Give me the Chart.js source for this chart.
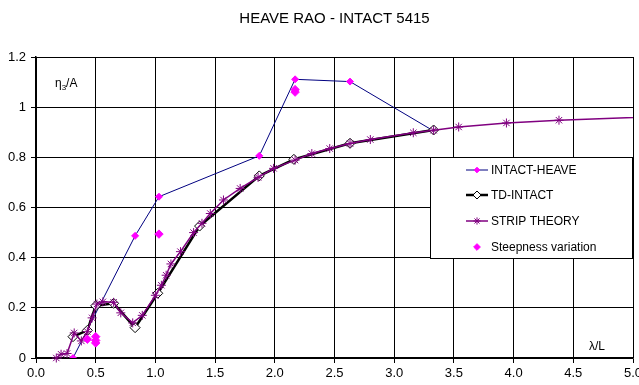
<!DOCTYPE html>
<html>
<head>
<meta charset="utf-8">
<script src="https://cdn.jsdelivr.net/npm/chart.js@4/dist/chart.umd.min.js"></script>
<style>
  body { margin: 0; background: #fff; }
  #wrap { width: 639px; height: 385px; }
</style>
</head>
<body>
<div id="wrap"><canvas id="raoChart" width="639" height="385"></canvas></div>
<script>
// values (x = lambda/L, y = eta3/A)
const heaveX = [0.31, 0.83, 1.03, 1.87, 2.17, 2.63, 3.33];
const heaveY = [0.0, 0.487, 0.643, 0.806, 1.111, 1.102, 0.905];

const tdX = [0.31, 0.43, 0.50, 0.65, 0.83, 1.02, 1.37, 1.87, 2.16, 2.63, 3.33];
const tdY = [0.085, 0.11, 0.208, 0.218, 0.121, 0.258, 0.526, 0.726, 0.792, 0.856, 0.909];

const stripX = [0.17, 0.21, 0.26, 0.32, 0.38, 0.43, 0.47, 0.51, 0.56, 0.65, 0.71, 0.81, 0.89,
                1.00, 1.05, 1.09, 1.13, 1.21, 1.32, 1.39, 1.46, 1.57, 1.71, 1.86, 1.99,
                2.17, 2.31, 2.46, 2.63, 2.80, 3.16, 3.33, 3.54, 3.94, 4.38, 5.5];
const stripY = [0.0, 0.015, 0.018, 0.10, 0.068, 0.105, 0.16, 0.215, 0.224, 0.222, 0.18, 0.14, 0.17,
                0.25, 0.29, 0.33, 0.375, 0.424, 0.50, 0.537, 0.576, 0.63, 0.676, 0.72, 0.756,
                0.789, 0.815, 0.835, 0.855, 0.871, 0.898, 0.908, 0.921, 0.937, 0.948, 0.968];

const steepX = [0.43, 0.50, 0.50, 0.50, 1.03, 2.17, 2.17];
const steepY = [0.075, 0.085, 0.07, 0.06, 0.494, 1.07, 1.06];

const xTicks = [0.0, 0.5, 1.0, 1.5, 2.0, 2.5, 3.0, 3.5, 4.0, 4.5, 5.0];
const yTicks = [0, 0.2, 0.4, 0.6, 0.8, 1, 1.2];

const FONT = '"Liberation Sans", Arial, sans-serif';

function pts(xs, ys) {
    return xs.map((x, i) => ({ x: x, y: ys[i] }));
}

// legend box drawn inside the plot, like the Excel original
const boxLegend = {
    id: 'boxLegend',
    afterDraw(chart) {
        const ctx = chart.ctx;
        const x0 = 430, y0 = 157, w = 202, h = 101;
        ctx.save();
        ctx.fillStyle = '#fff';
        ctx.fillRect(x0, y0, w, h);
        ctx.strokeStyle = '#000';
        ctx.lineWidth = 1;
        ctx.strokeRect(x0 + 0.5, y0 + 0.5, w, h);
        const rows = [170, 195, 221, 247];
        chart.data.datasets.forEach((ds, i) => {
            const y = rows[i];
            if (ds.showLine) {
                ctx.strokeStyle = ds.borderColor;
                ctx.lineWidth = ds.borderWidth;
                ctx.beginPath();
                ctx.moveTo(466, y);
                ctx.lineTo(488, y);
                ctx.stroke();
            }
            ctx.fillStyle = ds.pointBackgroundColor;
            ctx.strokeStyle = ds.pointBorderColor;
            ctx.lineWidth = ds.pointBorderWidth;
            Chart.helpers.drawPoint(ctx, {
                pointStyle: ds.pointStyle,
                radius: ds.pointRadius * 0.8,
                rotation: 0,
                borderWidth: ds.pointBorderWidth
            }, 477, y);
            ctx.fillStyle = '#000';
            ctx.font = '12px ' + FONT;
            ctx.textBaseline = 'middle';
            ctx.textAlign = 'left';
            ctx.fillText(ds.label, 491, y + 1);
        });
        ctx.restore();
    }
};

// axis captions inside the plot
const captions = {
    id: 'captions',
    afterDraw(chart) {
        const ctx = chart.ctx;
        ctx.save();
        ctx.fillStyle = '#000';
        ctx.textBaseline = 'alphabetic';
        ctx.font = '12px ' + FONT;
        ctx.fillText('η', 55, 87);
        const w1 = ctx.measureText('η').width;
        ctx.font = '8px ' + FONT;
        ctx.fillText('3', 55 + w1, 90);
        const w2 = ctx.measureText('3').width;
        ctx.font = '12px ' + FONT;
        ctx.fillText('/A', 55 + w1 + w2, 87);
        ctx.fillText('λ/L', 589, 350);
        ctx.restore();
    }
};

const ctx = document.getElementById('raoChart').getContext('2d');
const raoChart = new Chart(ctx, {
    type: 'scatter',
    data: {
        datasets: [
            {
                label: 'INTACT-HEAVE',
                data: pts(heaveX, heaveY),
                showLine: true,
                borderColor: '#000080',
                borderWidth: 1,
                pointStyle: 'rectRot',
                pointRadius: 3.5,
                pointBorderWidth: 1,
                pointBackgroundColor: '#ff00ff',
                pointBorderColor: '#ff00ff',
                order: 3
            },
            {
                label: 'TD-INTACT',
                data: pts(tdX, tdY),
                showLine: true,
                borderColor: '#000000',
                borderWidth: 2.5,
                pointStyle: 'rectRot',
                pointRadius: 5,
                pointBorderWidth: 1,
                pointBackgroundColor: '#ffffff',
                pointBorderColor: '#000000',
                order: 2
            },
            {
                label: 'STRIP THEORY',
                data: pts(stripX, stripY),
                showLine: true,
                borderColor: '#800080',
                borderWidth: 1.5,
                pointStyle: 'star',
                pointRadius: 4.5,
                pointBorderWidth: 1,
                pointBackgroundColor: '#800080',
                pointBorderColor: '#800080',
                clip: { left: 8, top: 8, right: 0, bottom: 8 },
                order: 1
            },
            {
                label: 'Steepness variation',
                data: pts(steepX, steepY),
                showLine: false,
                borderColor: '#ff00ff',
                borderWidth: 0,
                pointStyle: 'rectRot',
                pointRadius: 4.2,
                pointBorderWidth: 1,
                pointBackgroundColor: '#ff00ff',
                pointBorderColor: '#ff00ff',
                order: 0
            }
        ]
    },
    options: {
        responsive: false,
        animation: false,
        devicePixelRatio: 1,
        layout: { padding: { left: 0, right: 6, top: 0, bottom: 0 } },
        plugins: {
            legend: { display: false },
            tooltip: { enabled: false },
            title: {
                display: true,
                fullSize: false,
                text: 'HEAVE RAO - INTACT 5415',
                color: '#000',
                font: { family: FONT, size: 15, weight: 'normal', lineHeight: 1.2 },
                padding: { top: 10, bottom: 29 }
            }
        },
        scales: {
            x: {
                type: 'linear',
                min: 0,
                max: 5,
                afterBuildTicks: (s) => { s.ticks = xTicks.map(v => ({ value: v })); },
                afterFit: (s) => { s.height = 27; s.paddingLeft = 0; s.paddingRight = 0; },
                ticks: {
                    color: '#000',
                    font: { family: FONT, size: 13 },
                    padding: 3,
                    maxRotation: 0,
                    callback: (v) => Number(v).toFixed(1)
                },
                grid: { color: '#000', lineWidth: 1, tickLength: 5 },
                border: { color: '#000', width: 1.5 }
            },
            y: {
                type: 'linear',
                min: 0,
                max: 1.2,
                afterBuildTicks: (s) => { s.ticks = yTicks.map(v => ({ value: v })); },
                afterFit: (s) => { s.width = 36; s.paddingTop = 0; s.paddingBottom = 0; },
                ticks: {
                    color: '#000',
                    font: { family: FONT, size: 13 },
                    padding: 5,
                    callback: (v) => String(Math.round(v * 10) / 10)
                },
                grid: { color: '#000', lineWidth: 1, tickLength: 5 },
                border: { color: '#000', width: 1.5 }
            }
        }
    },
    plugins: [captions, boxLegend]
});
</script>
</body>
</html>
